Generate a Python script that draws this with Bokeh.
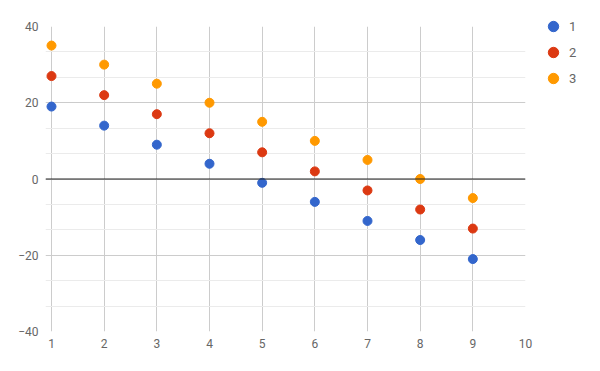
from bokeh.plotting import figure
from bokeh.models import FixedTicker, Span, Legend, LegendItem, Range1d
from bokeh.embed import file_html
from bokeh.resources import INLINE

x_values = [1, 2, 3, 4, 5, 6, 7, 8, 9]
series_1 = [19, 14, 9, 4, -1, -6, -11, -16, -21]
series_2 = [27, 22, 17, 12, 7, 2, -3, -8, -13]
series_3 = [35, 30, 25, 20, 15, 10, 5, 0, -5]
series_names = ["1", "2", "3"]
colors = ["#3366cc", "#dc3912", "#ff9900"]
x_ticks = [1, 2, 3, 4, 5, 6, 7, 8, 9, 10]
y_ticks = [-40, -20, 0, 20, 40]

minor_y = []
for a, b in zip(y_ticks[:-1], y_ticks[1:]):
    step = (b - a) / 3
    minor_y += [a + step, a + 2 * step]

FONT = "Roboto"
TXT = "#666666"

FRAME_W, FRAME_H = 480, 305
LEFT_PAD_PX = 6  # horizontal gridlines extend this far left of x=1
x_span = x_ticks[-1] - x_ticks[0]
x_start = x_ticks[0] - LEFT_PAD_PX * x_span / (FRAME_W - LEFT_PAD_PX)

p = figure(width=584, height=363, frame_width=FRAME_W, frame_height=FRAME_H,
           min_border_left=45, min_border_right=59, min_border_top=26, min_border_bottom=32,
           output_backend="svg", toolbar_location=None,
           x_range=Range1d(x_start, x_ticks[-1]), y_range=Range1d(y_ticks[0], y_ticks[-1]))
p.outline_line_color = None
p.background_fill_color = "white"
p.border_fill_color = "white"

# axes
p.xaxis.ticker = FixedTicker(ticks=x_ticks)
p.yaxis.ticker = FixedTicker(ticks=y_ticks, minor_ticks=minor_y)
for ax in (p.xaxis[0], p.yaxis[0]):
    ax.axis_line_color = None
    ax.minor_tick_line_color = None
    ax.major_tick_line_color = None
    ax.major_tick_out = 0
    ax.major_tick_in = 0
    ax.minor_tick_out = 0
    ax.minor_tick_in = 0
    ax.major_label_text_font = FONT
    ax.major_label_text_font_size = "12px"
    ax.major_label_text_color = TXT
    ax.major_label_standoff = 7

p.xgrid.grid_line_color = "#cccccc"
p.ygrid.grid_line_color = "#cccccc"
p.ygrid.minor_grid_line_color = "#ebebeb"

p.add_layout(Span(location=0, dimension="width", line_color="#222222", line_width=1))

renderers = []
for ys, c in zip([series_1, series_2, series_3], colors):
    r = p.scatter(x_values, ys, size=9, marker="circle", fill_color=c, line_color=c)
    renderers.append(r)

legend = Legend(items=[LegendItem(label=n, renderers=[r]) for n, r in zip(series_names, renderers)],
                location=(15, 240), orientation="vertical",
                glyph_width=26, glyph_height=26, label_height=26, spacing=0,
                padding=0, margin=0, label_standoff=3,
                label_text_font=FONT, label_text_font_size="13px", label_text_color=TXT,
                border_line_color=None, background_fill_alpha=0)
p.add_layout(legend, "right")

open("out.html", "w").write(file_html(p, INLINE))
